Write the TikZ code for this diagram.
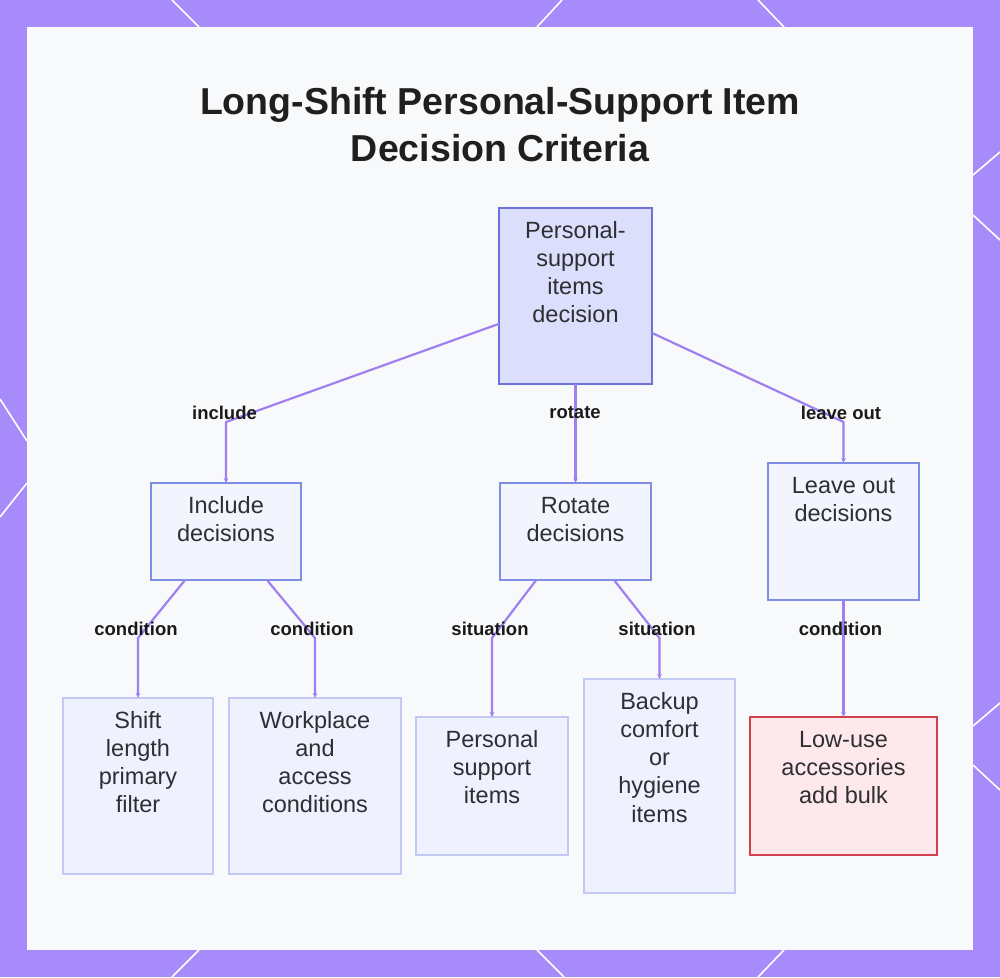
\documentclass[tikz,border=0pt]{standalone}
\usepackage{fontspec}
\setmainfont{Liberation Sans}
\usetikzlibrary{arrows.meta,calc}
\definecolor{bgpurple}{HTML}{A78BFA}
\definecolor{panelc}{HTML}{F8F9FB}
\definecolor{edgec}{HTML}{A07FF0}
\definecolor{rootfill}{HTML}{DCDFFB}
\definecolor{rootdraw}{HTML}{6D72D8}
\definecolor{midfill}{HTML}{F3F5FE}
\definecolor{middraw}{HTML}{7E8EE4}
\definecolor{leaffill}{HTML}{EFF2FE}
\definecolor{leafdraw}{HTML}{C2CAF4}
\definecolor{redfill}{HTML}{FDE8EC}
\definecolor{reddraw}{HTML}{D2404E}
\definecolor{txtc}{HTML}{2E2E33}
\definecolor{lblc}{HTML}{1A1A1A}
\newcommand\bxt[3]{\parbox[t][#2pt][t]{#1pt}{\centering\rule{0pt}{30pt}#3}}
\tikzset{
  boxbase/.style={rectangle, inner sep=0pt, outer sep=0pt, line width=2pt, text=txtc,
    font=\fontsize{23.5}{28.3}\selectfont},
  rootbox/.style={boxbase, fill=rootfill, draw=rootdraw},
  midbox/.style={boxbase, fill=midfill, draw=middraw},
  leafbox/.style={boxbase, fill=leaffill, draw=leafdraw},
  redbox/.style={boxbase, fill=redfill, draw=reddraw},
  edge/.style={draw=edgec, line width=2.2pt, line join=round, -{Stealth[length=5pt,width=4.5pt]}},
  lbl/.style={font=\bfseries\fontsize{18.5}{22}\selectfont, text=lblc, inner sep=0pt},
  titlestyle/.style={font=\bfseries\fontsize{37.5}{47}\selectfont, text=black!88, inner sep=0pt, anchor=base},
  deco/.style={draw=white, line width=1.6pt}
}
\begin{document}
\begin{tikzpicture}[x=1pt,y=-1pt]
\useasboundingbox (0,0) rectangle (1000,977);
\fill[bgpurple] (0,0) rectangle (1000,977);
% decorative lines on the frame
\draw[deco] (172,0) -- (199,27);
\draw[deco] (562,0) -- (537,27);
\draw[deco] (758,0) -- (784,27);
\draw[deco] (199,950) -- (172,977);
\draw[deco] (537,950) -- (564,977);
\draw[deco] (784,950) -- (758,977);
\draw[deco] (0,399) -- (27,441);
\draw[deco] (27,483) -- (0,517);
\draw[deco] (973,175) -- (1000,152);
\draw[deco] (973,215) -- (1000,240);
\draw[deco] (973,726) -- (1000,703);
\draw[deco] (973,765) -- (1000,790);
\fill[panelc] (27,27) rectangle (973,950);

% title
\node[titlestyle] (t1) at (500,114) {Long-Shift Personal-Support Item};
\node[titlestyle] (t2) at (500,161) {Decision Criteria};

% nodes
\node[rootbox] (root) at (575.5,296) {\bxt{153}{176}{Personal-\\support\\items\\decision}};
\node[midbox] (inc) at (226,531.5) {\bxt{150}{97}{Include\\decisions}};
\node[midbox] (rot) at (575.5,531.5) {\bxt{151}{97}{Rotate\\decisions}};
\node[midbox] (lo) at (843.5,531.5) {\bxt{151}{137}{Leave out\\decisions}};
\node[leafbox] (shift) at (138,786) {\bxt{150}{176}{Shift\\length\\primary\\filter}};
\node[leafbox] (work) at (315,786) {\bxt{172}{176}{Workplace\\and\\access\\conditions}};
\node[leafbox] (pers) at (492,786) {\bxt{152}{138}{Personal\\support\\items}};
\node[leafbox] (back) at (659.5,786) {\bxt{151}{214}{Backup\\comfort\\or\\hygiene\\items}};
\node[redbox] (low) at (843.5,786) {\bxt{187}{138}{Low-use\\accessories\\add bulk}};

% edges
\draw[edge] ($(root.north west)!0.658!(root.south west)$) -- (inc.north |- 0,422) -- (inc.north);
\draw[edge] (root.south) -- (rot.north);
\draw[edge] ($(root.north east)!0.71!(root.south east)$) -- (lo.north |- 0,422) -- (lo.north);
\draw[edge] ($(inc.south west)!0.227!(inc.south east)$) -- (shift.north |- 0,638) -- (shift.north);
\draw[edge] ($(inc.south west)!0.773!(inc.south east)$) -- (work.north |- 0,638) -- (work.north);
\draw[edge] ($(rot.south west)!0.24!(rot.south east)$) -- (pers.north |- 0,638) -- (pers.north);
\draw[edge] ($(rot.south west)!0.755!(rot.south east)$) -- (back.north |- 0,638) -- (back.north);
\draw[edge] (lo.south) -- (low.north);

% edge labels
\node[lbl] (l1) at (224.5,413) {include};
\node[lbl] (l2) at (575,413) {rotate};
\node[lbl] (l3) at (841,413) {leave out};
\node[lbl] (l4) at (136,629) {condition};
\node[lbl] (l5) at (312,629) {condition};
\node[lbl] (l6) at (490,629) {situation};
\node[lbl] (l7) at (657,629) {situation};
\node[lbl] (l8) at (840.5,629) {condition};
\end{tikzpicture}
\end{document}
